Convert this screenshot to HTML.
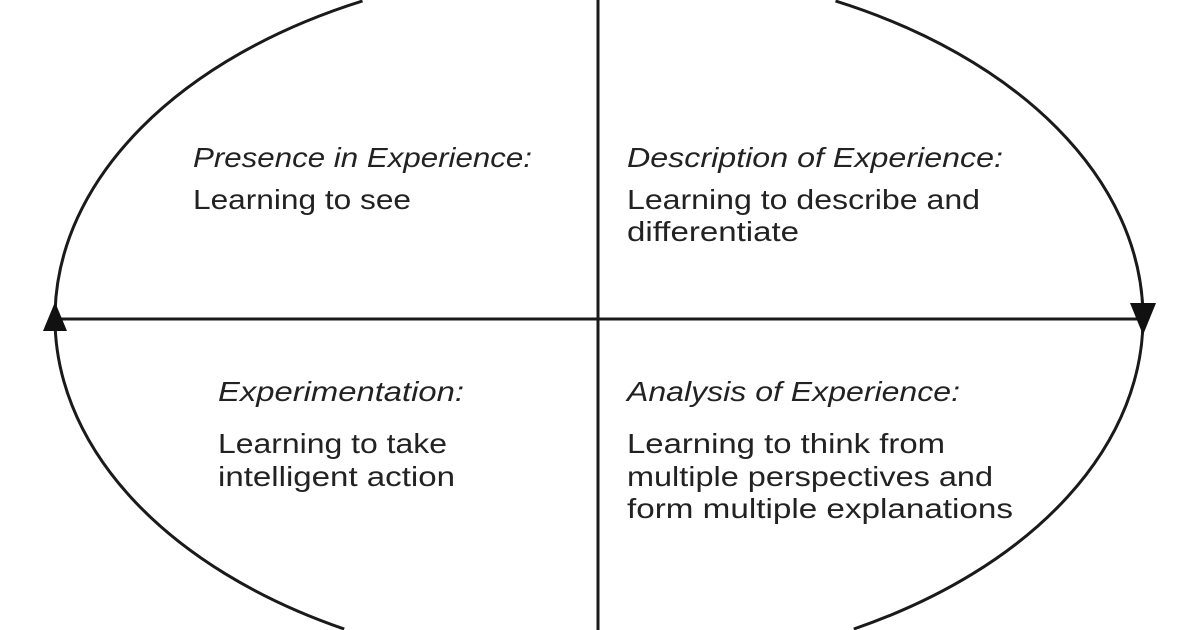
<!DOCTYPE html>
<html><head><meta charset="utf-8"><style>
html,body{margin:0;padding:0;background:#fff;width:1200px;height:630px;overflow:hidden;}
svg{display:block;overflow:hidden;}
text{font-family:"Liberation Sans",Arial,sans-serif;font-size:28px;fill:#222;}
.i{font-style:italic;}
</style></head><body>
<svg width="1200" height="630" viewBox="0 0 1200 630" xmlns="http://www.w3.org/2000/svg">
<path d="M362.5,1 A544,352 0 0 0 344.2,629" fill="none" stroke="#1a1a1a" stroke-width="3"/>
<path d="M835.5,1 A544,352 0 0 1 853.8,629" fill="none" stroke="#1a1a1a" stroke-width="3"/>
<line x1="598" y1="0" x2="598" y2="630" stroke="#1a1a1a" stroke-width="3"/>
<line x1="55" y1="319" x2="1143" y2="319" stroke="#1a1a1a" stroke-width="3"/>
<polygon points="55,302 43,331 67,331" fill="#111"/>
<polygon points="1130,303 1156,303 1143,335" fill="#111"/>
<text class="i" x="193" y="167" textLength="339" lengthAdjust="spacingAndGlyphs">Presence in Experience:</text>
<text x="193" y="209" textLength="218" lengthAdjust="spacingAndGlyphs">Learning to see</text>
<text class="i" x="627" y="167" textLength="376" lengthAdjust="spacingAndGlyphs">Description of Experience:</text>
<text x="627" y="209" textLength="353" lengthAdjust="spacingAndGlyphs">Learning to describe and</text>
<text x="627" y="241" textLength="172" lengthAdjust="spacingAndGlyphs">differentiate</text>
<text class="i" x="218" y="401" textLength="246" lengthAdjust="spacingAndGlyphs">Experimentation:</text>
<text x="218" y="453" textLength="229" lengthAdjust="spacingAndGlyphs">Learning to take</text>
<text x="218" y="486" textLength="237" lengthAdjust="spacingAndGlyphs">intelligent action</text>
<text class="i" x="627" y="401" textLength="333" lengthAdjust="spacingAndGlyphs">Analysis of Experience:</text>
<text x="627" y="453" textLength="318" lengthAdjust="spacingAndGlyphs">Learning to think from</text>
<text x="627" y="486" textLength="366" lengthAdjust="spacingAndGlyphs">multiple perspectives and</text>
<text x="627" y="518" textLength="386" lengthAdjust="spacingAndGlyphs">form multiple explanations</text>
</svg>
</body></html>
